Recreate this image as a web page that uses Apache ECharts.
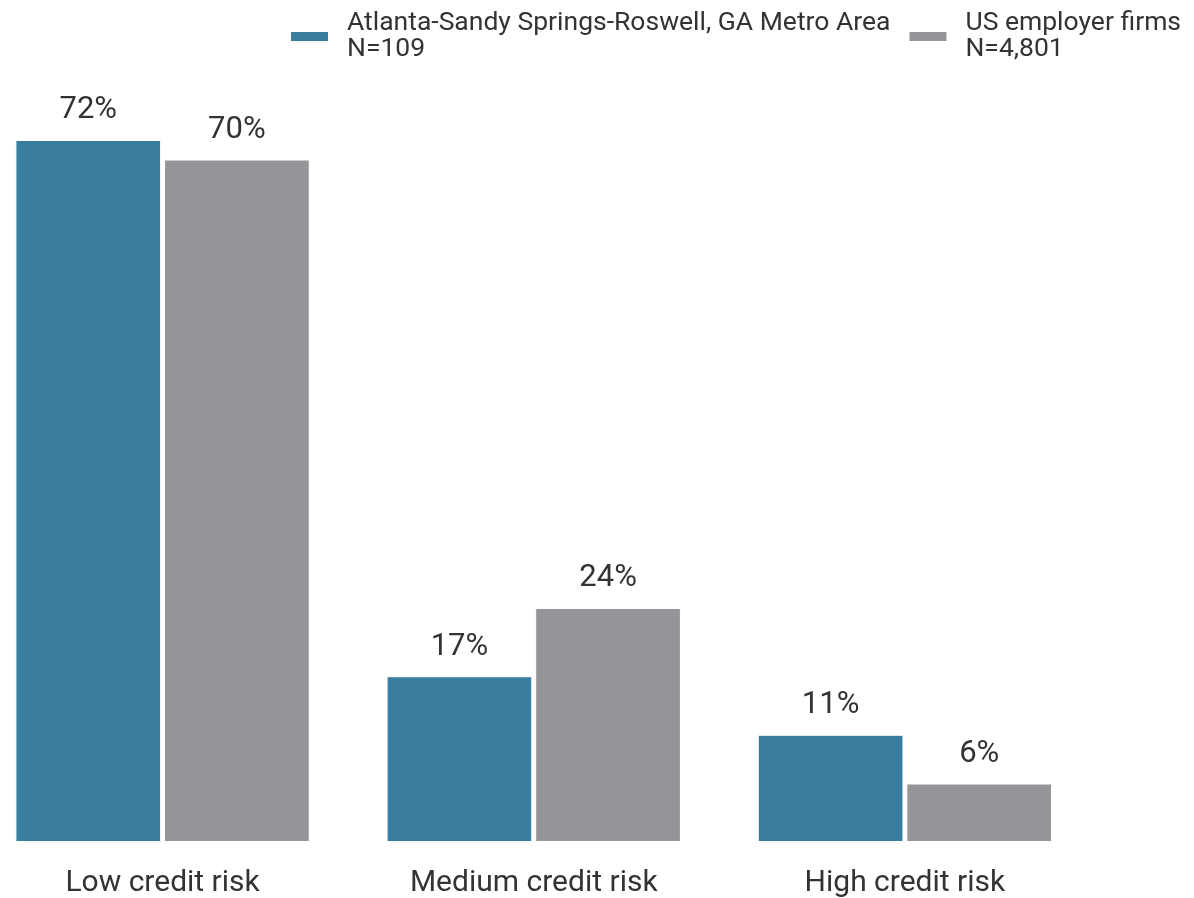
<!DOCTYPE html>
<html><head><meta charset="utf-8">
<script src="https://cdn.jsdelivr.net/npm/echarts@6/dist/echarts.min.js"></script>
<style>html,body{margin:0;padding:0;background:#fff;overflow:hidden}#c{position:absolute;left:-23px;top:0;width:1217px;height:898px}</style>
</head><body><div id="c"></div>
<script>
const categories = ['Low credit risk', 'Medium credit risk', 'High credit risk'];
const seriesNames = ['Atlanta-Sandy Springs-Roswell, GA Metro Area\nN=109', 'US employer firms\nN=4,801'];
const atlantaValues = [72, 17, 11];
const usValues = [70, 24, 6];
const colors = ['#397d9f', '#939598'];

const chart = echarts.init(document.getElementById('c'));
const labelStyle = {show: true, position: 'top', distance: 14, formatter: p => p.value + '%', fontFamily: 'Roboto', fontSize: 31, color: '#333'};
chart.setOption({
  animation: false,
  textStyle: {fontFamily: 'Roboto'},
  legend: {
    left: 307, top: 5, width: 1000, itemWidth: 39, itemHeight: 11, itemGap: 17,
    icon: 'rect',
    textStyle: {fontFamily: 'Roboto', fontSize: 26.5, color: '#333', lineHeight: 26, padding: [0, 0, 0, 13]},
    data: seriesNames
  },
  grid: {left: 0, right: 103.5, top: 140, bottom: 56, containLabel: false},
  xAxis: {
    type: 'category', data: categories,
    axisLine: {show: false}, axisTick: {show: false},
    axisLabel: {fontFamily: 'Roboto', fontSize: 30, color: '#333', margin: 26}
  },
  yAxis: {type: 'value', min: 0, max: 72, show: false, splitLine: {show: false}},
  series: [
    {name: seriesNames[0], type: 'bar', data: atlantaValues, barGap: '2%', barCategoryGap: '20.7%',
     itemStyle: {color: colors[0], borderColor: '#fff', borderWidth: 1}, label: labelStyle},
    {name: seriesNames[1], type: 'bar', data: usValues, barGap: '2%', barCategoryGap: '20.7%',
     itemStyle: {color: colors[1], borderColor: '#fff', borderWidth: 1}, label: labelStyle}
  ]
});
</script></body></html>
